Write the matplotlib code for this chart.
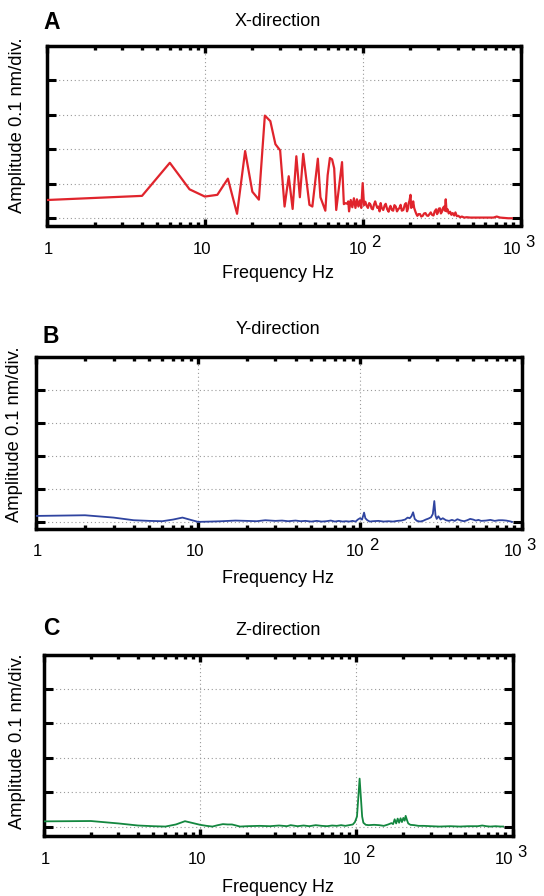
import matplotlib
matplotlib.use("Agg")
import matplotlib.pyplot as plt

plt.rcParams['font.family'] = ['Liberation Sans', 'DejaVu Sans']

# X-direction (red)
freq_x = [1, 4, 6, 8, 10, 12, 14, 16, 18, 20, 22, 24, 26, 28, 30, 32, 34, 36, 38, 40,
          42, 46, 48, 52, 54, 58, 60, 62, 64, 66, 68, 74, 76, 78, 80, 81, 82, 84, 86, 88,
          90, 92, 94, 96, 98, 100, 102, 104, 106, 108, 110, 112, 114, 116, 118, 120, 122,
          124, 126, 128, 130, 132, 135, 138, 140, 143, 146, 148, 150, 153, 156, 159, 162,
          165, 168, 171, 174, 177, 181, 185, 188, 191, 194, 196, 198, 201, 203, 206, 209,
          212, 216, 219, 222, 226, 231, 235, 240, 245, 250, 255, 260, 265, 270, 275, 281,
          286, 292, 296, 300, 304, 309, 313, 318, 323, 328, 332, 336, 340, 345, 351, 358,
          365, 372, 380, 387, 395, 404, 414, 425, 440, 456, 480, 503, 540, 583, 630, 674,
          707, 742, 790, 837, 880]
amp_x = [0.53, 0.65, 1.61, 0.84, 0.63, 0.68, 1.15, 0.13, 1.95, 0.77, 0.54, 2.98, 2.82, 2.15,
         1.97, 0.34, 1.22, 0.27, 1.80, 0.61, 1.87, 0.39, 0.34, 1.73, 0.61, 0.22, 1.25, 1.75,
         1.71, 1.45, 0.24, 1.63, 0.41, 0.44, 0.42, 0.49, 0.20, 0.53, 0.32, 0.58, 0.30, 0.55,
         0.34, 0.52, 0.30, 1.02, 0.38, 0.48, 0.36, 0.30, 0.44, 0.40, 0.28, 0.26, 0.40, 0.49,
         0.38, 0.30, 0.34, 0.20, 0.44, 0.30, 0.24, 0.38, 0.42, 0.26, 0.19, 0.30, 0.36, 0.24,
         0.22, 0.38, 0.34, 0.20, 0.26, 0.30, 0.39, 0.22, 0.24, 0.40, 0.44, 0.20, 0.29, 0.45,
         0.51, 0.68, 0.30, 0.34, 0.49, 0.30, 0.19, 0.12, 0.07, 0.12, 0.12, 0.05, 0.07, 0.14,
         0.15, 0.08, 0.07, 0.12, 0.17, 0.10, 0.08, 0.20, 0.26, 0.12, 0.17, 0.28, 0.29, 0.14,
         0.19, 0.30, 0.34, 0.22, 0.55, 0.20, 0.26, 0.14, 0.19, 0.10, 0.15, 0.08, 0.17, 0.06,
         0.07, 0.03, 0.05, 0.02, 0.03, 0.02, 0.02, 0.02, 0.02, 0.02, 0.02, 0.05, 0.02, 0.01,
         0.0, 0.0]

# Y-direction (blue)
freq_y = [1, 2, 3, 4, 5, 6, 7, 8, 9, 10, 12, 14, 17, 20, 23, 26, 30, 33, 36, 40, 43, 46,
          50, 54, 58, 62, 66, 70, 74, 78, 82, 86, 90, 94, 97, 100, 103, 106, 108, 111, 115,
          120, 130, 140, 150, 160, 170, 180, 190, 197, 203, 208, 213, 218, 225, 235, 245,
          255, 265, 275, 282, 288, 293, 298, 305, 315, 325, 340, 355, 370, 385, 400, 420,
          440, 460, 480, 500, 520, 540, 560, 600, 640, 680, 720, 760, 800, 840, 870]
amp_y = [0.19, 0.21, 0.14, 0.06, 0.04, 0.03, 0.08, 0.14, 0.07, 0.01, 0.02, 0.03, 0.05, 0.04,
         0.03, 0.06, 0.04, 0.05, 0.03, 0.05, 0.03, 0.04, 0.02, 0.04, 0.02, 0.03, 0.05, 0.02,
         0.04, 0.02, 0.03, 0.02, 0.04, 0.02, 0.08, 0.12, 0.08, 0.29, 0.12, 0.06, 0.02, 0.03,
         0.04, 0.02, 0.03, 0.02, 0.04, 0.05, 0.08, 0.14, 0.12, 0.18, 0.30, 0.10, 0.04, 0.02,
         0.04, 0.08, 0.11, 0.15, 0.25, 0.64, 0.20, 0.10, 0.18, 0.08, 0.12, 0.06, 0.04, 0.07,
         0.04, 0.09, 0.05, 0.03, 0.06, 0.10, 0.08, 0.05, 0.07, 0.04, 0.05, 0.07, 0.04, 0.06,
         0.06, 0.05, 0.03, 0.01]

# Z-direction (green)
freq_z = [1, 2, 3, 4, 5, 6, 7, 8, 9, 10, 11, 12, 13, 14, 15, 16, 17, 18, 20, 24, 28, 32,
          36, 38, 42, 46, 50, 55, 60, 65, 70, 75, 80, 85, 90, 95, 98, 101, 103, 105, 107,
          109, 111, 115, 120, 130, 140, 150, 160, 168, 172, 176, 180, 184, 188, 192, 196,
          200, 204, 207, 211, 215, 222, 235, 250, 270, 300, 340, 400, 460, 520, 600, 640,
          680, 720, 780, 840, 870]
amp_z = [0.16, 0.17, 0.10, 0.04, 0.02, 0.01, 0.07, 0.165, 0.11, 0.06, 0.03, 0.01, 0.05, 0.08,
         0.07, 0.07, 0.04, 0.01, 0.02, 0.03, 0.02, 0.04, 0.02, 0.05, 0.02, 0.04, 0.02, 0.05,
         0.03, 0.02, 0.04, 0.03, 0.05, 0.03, 0.05, 0.07, 0.14, 0.30, 0.85, 1.40, 0.85, 0.30,
         0.12, 0.06, 0.05, 0.06, 0.05, 0.03, 0.07, 0.11, 0.08, 0.22, 0.10, 0.24, 0.12, 0.25,
         0.14, 0.26, 0.18, 0.32, 0.20, 0.10, 0.06, 0.05, 0.03, 0.03, 0.02, 0.01, 0.02, 0.01,
         0.02, 0.02, 0.04, 0.02, 0.01, 0.02, 0.01, 0.01]

xticks = [1, 10, 100, 1000]
xticklabels = ['1', '10', '10', '10']
superscripts = ['', '', '2', '3']
label_shift = [1.5, -3, -4.5, -8.5]   # px, label centre relative to tick

W, H = 544, 896
PT = 72 / 100   # points per pixel
fig = plt.figure(figsize=(W / 100, H / 100), dpi=100)


def panel(box, freq, amp, color, lw, letter, title, ybot, rows):
    left, right, top, bottom = box
    ax = fig.add_axes([left / W, 1 - bottom / H, (right - left) / W, (bottom - top) / H])
    ax.plot(freq, amp, color=color, lw=lw, zorder=3)
    ax.set_xscale('log')
    ax.set_xlim(1, 1000)
    ax.set_ylim(ybot, 5)
    ax.set_xticks(xticks)
    ax.set_xticklabels([])
    ax.set_yticks([0, 1, 2, 3, 4])
    ax.set_yticklabels([])
    ax.tick_params(axis='x', which='major', direction='in', top=True, length=5, width=2.4)
    ax.tick_params(axis='x', which='minor', direction='in', top=True, length=3, width=2.4)
    ax.tick_params(axis='y', which='major', direction='in', right=True, length=6.5, width=2.2)
    for s in ax.spines.values():
        s.set_linewidth(2.5)
    ax.grid(True, which='major', ls=(0, (1, 2.5)), color='#9a9a9a', lw=0.8)
    ax.set_axisbelow(True)
    tr = ax.get_xaxis_transform()
    for val, lab, sup, dx in zip(xticks, xticklabels, superscripts, label_shift):
        ax.annotate(lab, xy=(val, 0), xycoords=tr, xytext=(dx * PT, -28 * PT),
                    textcoords='offset points', fontsize=12, ha='center', va='baseline',
                    annotation_clip=False)
        if sup:
            ax.annotate(sup, xy=(val, 0), xycoords=tr,
                        xytext=((dx + 9.3 + 4) * PT, -21.5 * PT),
                        textcoords='offset points', fontsize=12, ha='left',
                        va='baseline', annotation_clip=False)
    lt, tt, xl, yl = rows
    fig.text(43 / W, 1 - lt / H, letter, fontsize=16.5, fontweight='bold', va='baseline')
    fig.text(278 / W, 1 - tt / H, title, fontsize=13, ha='center', va='baseline')
    fig.text(278 / W, 1 - xl / H, 'Frequency Hz', fontsize=13, ha='center', va='baseline')
    fig.text(yl[0] / W, 1 - yl[1] / H, 'Amplitude 0.1 nm/div.', fontsize=13.2,
             rotation=90, ha='center', va='center')
    return ax


panel((47, 520.5, 46, 225.5), freq_x, amp_x, '#e0242c', 1.6, 'A', 'X-direction', -0.21,
      (29.3, 26, 278.5, (18, 125)))
panel((36.3, 521.8, 356.7, 528.5), freq_y, amp_y, '#2f44a0', 1.3, 'B', 'Y-direction', -0.19,
      (342.7, 334.3, 583.3, (15, 434)))
panel((43.9, 512.5, 654.5, 835.5), freq_z, amp_z, '#13873f', 1.3, 'C', 'Z-direction', -0.25,
      (635, 635, 891.5, (18, 741)))

fig.savefig('out.png', dpi=100)
